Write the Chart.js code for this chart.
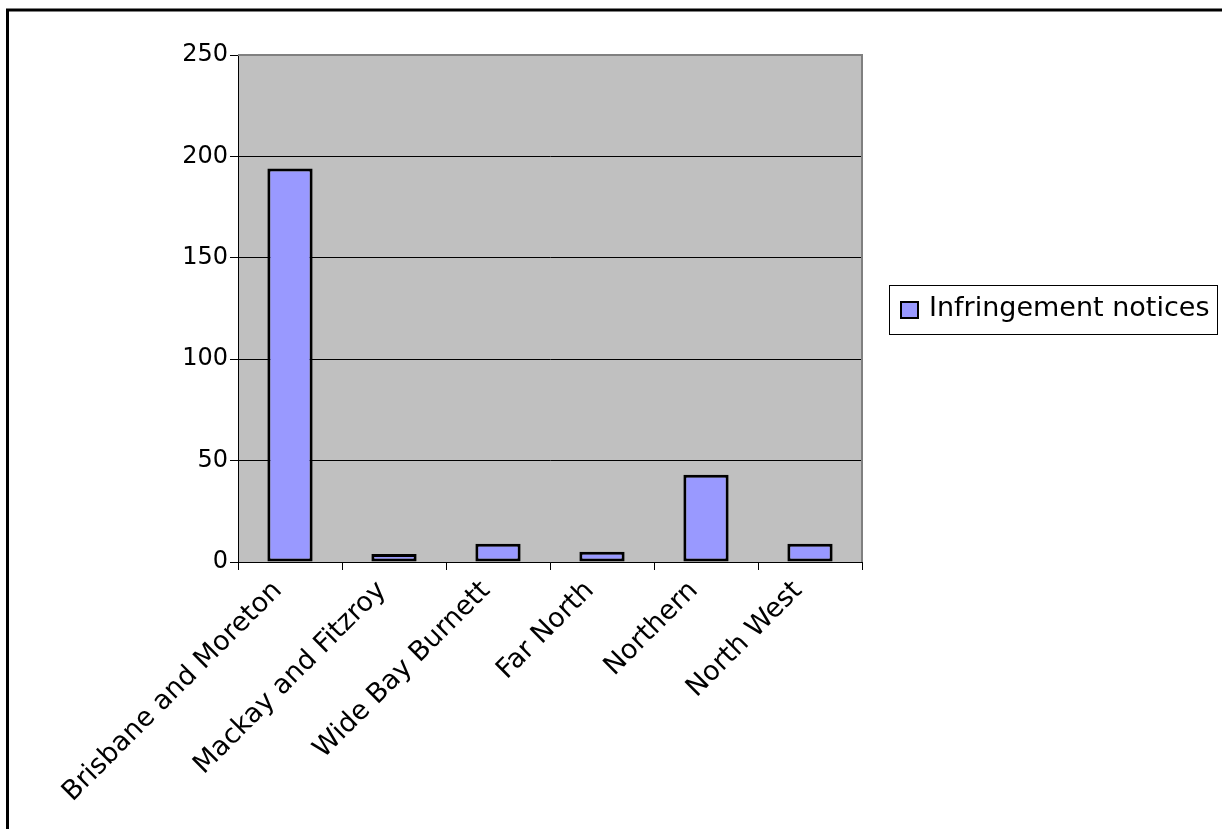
<!DOCTYPE html>
<html>
<head>
<meta charset="utf-8">
<script src="https://cdn.jsdelivr.net/npm/chart.js@4/dist/chart.umd.min.js"></script>
<style>
  html, body { margin: 0; padding: 0; background: #fff; }
  #wrap { position: relative; width: 1222px; height: 829px; }
</style>
</head>
<body>
<div id="wrap"><canvas id="regionChart" width="1222" height="829"></canvas></div>
<script>
const regions = ['Brisbane and Moreton', 'Mackay and Fitzroy', 'Wide Bay Burnett', 'Far North', 'Northern', 'North West'];
const notices = [194, 4, 9, 5, 43, 9];
const seriesName = 'Infringement notices';
const yTicks = [0, 50, 100, 150, 200, 250];

const FONT = 'DejaVu Sans';

// gray plot background, plot border, outer frame and boxed legend
const excelLook = {
    id: 'excelLook',
    beforeDraw(chart) {
        const { ctx, chartArea: a } = chart;
        ctx.save();
        ctx.fillStyle = '#C0C0C0';
        ctx.fillRect(a.left, a.top, a.right - a.left, a.bottom - a.top);
        ctx.restore();
    },
    afterDraw(chart) {
        const { ctx, chartArea: a } = chart;
        ctx.save();
        ctx.strokeStyle = '#808080';
        ctx.lineWidth = 2;
        ctx.beginPath();
        ctx.moveTo(a.left, a.top);
        ctx.lineTo(a.right, a.top);
        ctx.lineTo(a.right, a.bottom);
        ctx.stroke();

        // outer frame
        ctx.strokeStyle = '#000';
        ctx.lineWidth = 3;
        ctx.strokeRect(7.5, 10, 1240, 860);

        // legend
        const ds = chart.data.datasets[0];
        ctx.lineWidth = 1;
        ctx.strokeStyle = '#000';
        ctx.strokeRect(889.5, 285.5, 328, 49);
        ctx.fillStyle = ds.backgroundColor;
        ctx.fillRect(901, 302, 17, 16);
        ctx.lineWidth = 2;
        ctx.strokeRect(901, 302, 17, 16);
        ctx.fillStyle = '#000';
        ctx.font = '27px "' + FONT + '"';
        ctx.textBaseline = 'middle';
        ctx.fillText(ds.label, 929, 309);
        ctx.restore();
    }
};

new Chart(document.getElementById('regionChart'), {
    type: 'bar',
    data: {
        labels: regions,
        datasets: [{
            label: seriesName,
            data: notices,
            backgroundColor: '#9999FF',
            borderColor: '#000',
            borderWidth: 3,
            borderSkipped: false,
            categoryPercentage: 1,
            barPercentage: 0.435
        }]
    },
    options: {
        responsive: false,
        animation: false,
        layout: { padding: { top: 55, right: 360, left: 0, bottom: 0 } },
        plugins: {
            legend: { display: false },
            tooltip: { enabled: false }
        },
        scales: {
            x: {
                grid: { offset: true, drawOnChartArea: false, color: '#000', tickLength: 8 },
                border: { color: '#000', width: 1 },
                ticks: {
                    color: '#000',
                    font: { family: FONT, size: 27 },
                    maxRotation: 45,
                    minRotation: 45,
                    autoSkip: false,
                    labelOffset: -12,
                    padding: 5
                },
                afterFit(scale) { scale.height = 829 - 562; }
            },
            y: {
                min: 0,
                max: 250,
                afterBuildTicks(scale) { scale.ticks = yTicks.map(v => ({ value: v })); },
                grid: { color: '#000', tickLength: 8, lineWidth: 1 },
                border: { color: '#000', width: 1 },
                ticks: {
                    color: '#000',
                    font: { family: FONT, size: 24 },
                    padding: 2
                },
                afterFit(scale) { scale.width = 238; }
            }
        }
    },
    plugins: [excelLook]
});
</script>
</body>
</html>
